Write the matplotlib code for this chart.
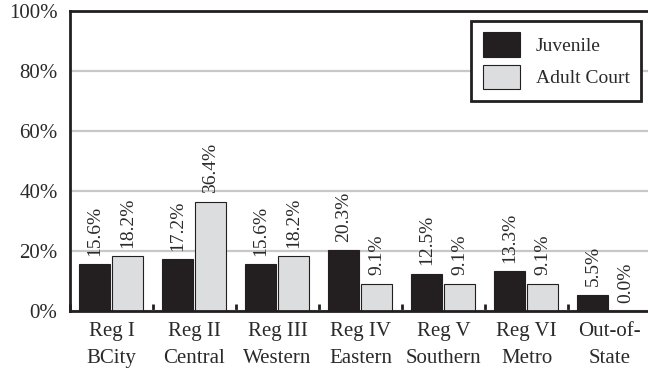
import matplotlib
matplotlib.use("Agg")
import matplotlib.pyplot as plt
import numpy as np
from matplotlib.ticker import FixedLocator, PercentFormatter

categories = ["Reg I\nBCity", "Reg II\nCentral", "Reg III\nWestern", "Reg IV\nEastern",
              "Reg V\nSouthern", "Reg VI\nMetro", "Out-of-\nState"]
juvenile = [15.6, 17.2, 15.6, 20.3, 12.5, 13.3, 5.5]
adult_court = [18.2, 36.4, 18.2, 9.1, 9.1, 9.1, 0.0]
series_names = ["Juvenile", "Adult Court"]

plt.rcParams['font.family'] = ['Liberation Serif', 'DejaVu Serif']
dark = "#231f20"
light = "#dcdddf"
txt = "#2a2a2a"

fig = plt.figure(figsize=(6.48, 3.72), dpi=100)
ax = fig.add_axes([70/648, 1-311/372, 581/648, 300/372])

x = np.arange(len(categories))
w = 0.375
b1 = ax.bar(x - 0.2, juvenile, w, color=dark, edgecolor=dark, linewidth=0.8, zorder=3, label=series_names[0])
b2 = ax.bar(x + 0.195, adult_court, w, color=light, edgecolor=dark, linewidth=0.8, zorder=3, label=series_names[1])

for bars, vals in ((b1, juvenile), (b2, adult_court)):
    for rect, v in zip(bars, vals):
        ax.annotate(f"{v:.1f}%", (rect.get_x() + rect.get_width()/2, v),
                    xytext=(0, 6), textcoords="offset points",
                    rotation=90, ha="center", va="bottom", fontsize=14, color=txt)

ax.set_xlim(-0.5, 6.5)
ax.set_ylim(0, 100)
ax.yaxis.set_major_locator(FixedLocator([0, 20, 40, 60, 80, 100]))
ax.yaxis.set_major_formatter(PercentFormatter(decimals=0))
ax.tick_params(axis="y", length=0, pad=9, labelsize=15, colors=txt)
ax.set_xticks(x)
ax.set_xticklabels(categories, fontsize=15, color=txt, linespacing=1.55)
ax.tick_params(axis="x", which="major", length=0, pad=8)
ax.set_xticks(np.arange(-0.5, 7.0, 1.0), minor=True)
ax.tick_params(axis="x", which="minor", direction="in", length=5, width=2, color=dark)

ax.grid(axis="y", color="#c8c8c8", linewidth=1.6, zorder=0)
ax.set_axisbelow(True)
for s in ["left", "top", "bottom", "right"]:
    ax.spines[s].set_linewidth(2)
    ax.spines[s].set_color(dark)
    ax.spines[s].set_zorder(5)

leg = ax.legend(loc="upper right", bbox_to_anchor=(1, 1), fontsize=14,
                handlelength=1.9, handleheight=1.55, labelspacing=0.4,
                handletextpad=0.8, borderpad=0.6, borderaxespad=0.5,
                fancybox=False, framealpha=1, edgecolor=dark)
leg.get_frame().set_linewidth(2)
leg.set_zorder(6)
for t in leg.get_texts():
    t.set_color(txt)

fig.savefig("out.png", dpi=100)
